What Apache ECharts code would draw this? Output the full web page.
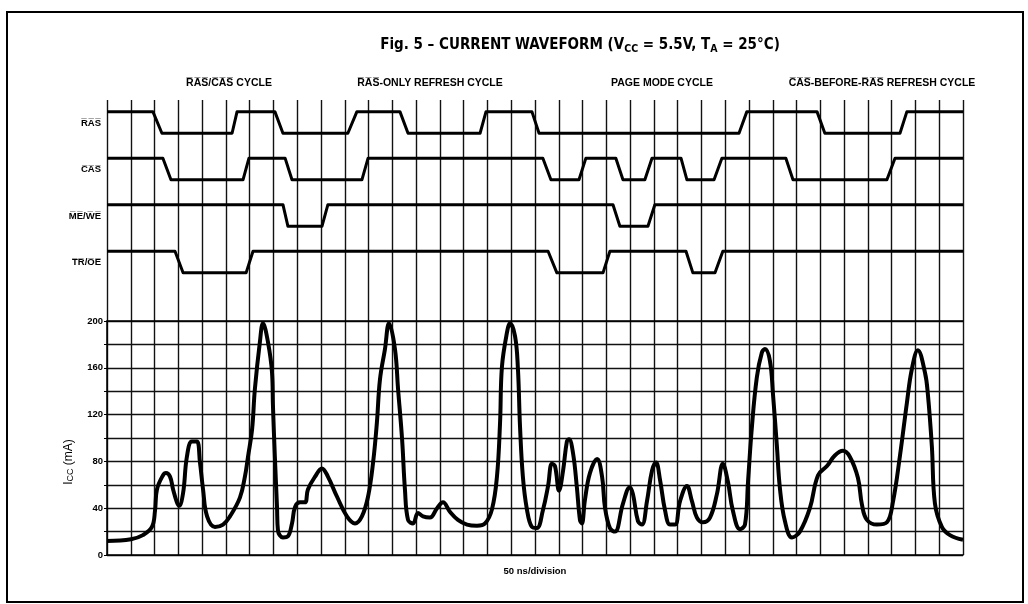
<!DOCTYPE html>
<html>
<head>
<meta charset="utf-8">
<script src="https://cdn.jsdelivr.net/npm/echarts@6/dist/echarts.min.js"></script>
<style>
html, body { margin: 0; padding: 0; background: #fff; }
#main { width: 1028px; height: 604px; }
</style>
</head>
<body>
<div id="main"></div>
<script>
// time in divisions (50 ns each), 36 divisions across
const iccTime = [0, 1.01, 1.51, 1.89, 2.02, 2.10, 2.35, 2.48, 2.65, 2.78,
    2.94, 3.03, 3.20, 3.36, 3.57, 3.78, 3.91, 4.04, 4.21, 4.54,
    4.88, 5.17, 5.59, 5.80, 5.93, 6.10, 6.22, 6.43, 6.56, 6.77,
    6.94, 6.98, 7.06, 7.15, 7.19, 7.40, 7.61, 7.78, 7.91, 8.12,
    8.33, 8.45, 8.75, 9.04, 9.29, 9.67, 10.09, 10.43, 10.72, 10.98,
    11.19, 11.35, 11.48, 11.69, 11.86, 12.11, 12.24, 12.41, 12.53, 12.66,
    12.87, 13.08, 13.29, 13.58, 13.88, 14.13, 14.42, 14.76, 15.14, 15.56,
    15.90, 16.19, 16.40, 16.53, 16.61, 16.82, 16.95, 17.16, 17.28, 17.37,
    17.49, 17.66, 17.87, 18.08, 18.33, 18.55, 18.71, 18.84, 19.01, 19.18,
    19.34, 19.43, 19.60, 19.76, 19.89, 19.97, 20.10, 20.31, 20.61, 20.82,
    20.94, 21.15, 21.36, 21.70, 21.99, 22.12, 22.33, 22.50, 22.71, 22.92,
    23.09, 23.26, 23.47, 23.68, 23.89, 24.10, 24.39, 24.60, 24.81, 25.06,
    25.36, 25.65, 25.90, 26.11, 26.32, 26.62, 26.83, 26.96, 27.12, 27.33,
    27.54, 27.67, 27.88, 28.01, 28.17, 28.30, 28.51, 28.81, 29.14, 29.56,
    29.90, 30.28, 30.61, 30.95, 31.24, 31.58, 31.75, 31.96, 32.38, 32.80,
    33.05, 33.35, 33.64, 33.85, 34.10, 34.40, 34.52, 34.69, 34.82, 35.11,
    35.45, 36];

// Icc in mA
const iccValue = [12, 13.5, 17, 24, 38, 56, 68, 70, 67, 56,
    45, 42, 53, 84, 97, 97, 79, 56, 33, 24,
    26, 33, 49, 67, 84, 107, 142, 182, 198, 182,
    156, 127, 84, 41, 21, 15, 16, 27, 41, 45,
    45, 56, 67, 74, 67, 50, 33, 27, 33, 50,
    79, 113, 150, 176, 198, 176, 142, 99, 56, 30,
    27, 36, 33, 32, 40, 45, 37, 30, 26, 25,
    27, 39, 67, 113, 161, 190, 198, 187, 160, 110,
    67, 39, 24, 23, 38, 59, 78, 76, 55, 72,
    97, 99, 87, 58, 30, 27, 47, 70, 82, 67,
    41, 23, 20, 44, 58, 52, 29, 26, 46, 72,
    79, 64, 38, 26, 26, 46, 59, 46, 32, 28,
    32, 52, 78, 63, 38, 22, 26, 63, 109, 152,
    173, 176, 166, 137, 94, 57, 29, 15, 20, 40,
    68, 76, 85, 89, 84, 66, 43, 30, 26, 28,
    45, 85, 130, 159, 175, 156, 138, 93, 44, 24,
    17, 13];

// control signals: [time in divisions, level 1 = high / 0 = low]
const rasWave = [[0, 1], [1.93, 1], [2.31, 0], [5.26, 0], [5.47, 1], [7.06, 1], [7.40, 0], [10.13, 0], [10.51, 1],
    [12.32, 1], [12.66, 0], [15.69, 0], [15.94, 1], [17.87, 1], [18.17, 0], [26.58, 0], [26.91, 1],
    [29.86, 1], [30.19, 0], [33.35, 0], [33.64, 1], [36, 1]];
const casWave = [[0, 1], [2.35, 1], [2.69, 0], [5.72, 0], [5.97, 1], [7.49, 1], [7.78, 0], [10.72, 0], [10.98, 1],
    [18.33, 1], [18.67, 0], [19.85, 0], [20.14, 1], [21.40, 1], [21.70, 0], [22.62, 0], [22.92, 1],
    [24.14, 1], [24.39, 0], [25.53, 0], [25.86, 1], [28.55, 1], [28.85, 0], [32.80, 0], [33.14, 1], [36, 1]];
const meWeWave = [[0, 1], [7.40, 1], [7.61, 0], [9.04, 0], [9.29, 1], [21.28, 1], [21.57, 0], [22.75, 0], [23.04, 1], [36, 1]];
const trOeWave = [[0, 1], [2.86, 1], [3.20, 0], [5.85, 0], [6.14, 1], [18.55, 1], [18.92, 0], [20.86, 0], [21.15, 1],
    [24.35, 1], [24.64, 0], [25.57, 0], [25.90, 1], [36, 1]];

// overline helper (active-low signal names)
function ov(s) {
    return s.split('').map(c => c + '\u0305').join('');
}

const signalNames = [ov('RAS'), ov('CAS'), ov('ME') + '/' + ov('WE'), ov('TR') + '/' + ov('OE')];
const signalWaves = [rasWave, casWave, meWeWave, trOeWave];
const laneBase = [8, 6, 4, 2];

const cycleNames = [ov('RAS') + '/' + ov('CAS') + ' CYCLE', ov('RAS') + '-ONLY REFRESH CYCLE',
    'PAGE MODE CYCLE', ov('CAS') + '-BEFORE-' + ov('RAS') + ' REFRESH CYCLE'];

const yTicks = [0, 40, 80, 120, 160, 200];

const font = "'Liberation Sans', 'DejaVu Sans', Arial, sans-serif";
const narrow = "'DejaVu Sans Condensed', 'Liberation Sans', sans-serif";
const gridLine = { color: '#111', width: 1.4 };

// label lookup for the signal lane axis
let laneLabel = {};
laneBase.forEach((b, i) => { laneLabel[b + 0.5] = signalNames[i]; });

let series = signalWaves.map((wave, i) => ({
    type: 'line',
    xAxisIndex: 0,
    yAxisIndex: 0,
    showSymbol: false,
    symbol: 'none',
    lineStyle: { color: '#000', width: 3, join: 'round' },
    data: wave.map(p => [p[0], laneBase[i] + (p[1] ? 1 : 0.07)])
}));

series.push({
    type: 'line',
    xAxisIndex: 1,
    yAxisIndex: 1,
    showSymbol: false,
    symbol: 'none',
    smooth: 0.4,
    lineStyle: { color: '#000', width: 4, join: 'round' },
    data: iccTime.map((t, i) => [t, iccValue[i]])
});

let option = {
    backgroundColor: '#fff',
    animation: false,
    grid: [
        { left: 107, right: 65, top: 100, height: 221 },
        { left: 107, right: 65, top: 321, bottom: 49 }
    ],
    xAxis: [{
        gridIndex: 0,
        type: 'value',
        min: 0, max: 36, interval: 1,
        position: 'top',
        axisLine: { show: true, lineStyle: { color: '#000', width: 1.5 } },
        axisTick: { show: false },
        axisLabel: { show: false },
        splitLine: { show: true, lineStyle: gridLine }
    }, {
        gridIndex: 1,
        type: 'value',
        min: 0, max: 36, interval: 1,
        axisLine: { show: true, onZero: false, lineStyle: { color: '#000', width: 1.6 } },
        axisTick: { show: false },
        axisLabel: { show: false },
        splitLine: { show: true, lineStyle: gridLine },
        name: '50 ns/division',
        nameLocation: 'middle',
        nameGap: 11,
        nameTextStyle: { color: '#000', fontFamily: font, fontWeight: 'bold', fontSize: 9.5 }
    }],
    yAxis: [{
        gridIndex: 0,
        type: 'value',
        min: 0, max: 9.5, interval: 0.5,
        axisLine: { show: false },
        axisTick: { show: false },
        splitLine: { show: false },
        axisLabel: {
            margin: 6,
            color: '#000',
            fontFamily: font,
            fontWeight: 'bold',
            fontSize: 9.5,
            formatter: v => laneLabel[v] || ''
        }
    }, {
        gridIndex: 1,
        type: 'value',
        min: 0, max: 200, interval: 20,
        axisLine: { show: true, lineStyle: { color: '#000', width: 1.5 } },
        axisTick: { show: true, length: 3, lineStyle: { color: '#000' } },
        splitLine: { show: true, lineStyle: gridLine },
        axisLabel: {
            margin: 4,
            color: '#000',
            fontFamily: font,
            fontWeight: 'bold',
            fontSize: 9.5,
            formatter: v => yTicks.includes(v) ? String(v) : ''
        },
        name: '{a|I}{s|CC}{a| (mA)}',
        nameLocation: 'middle',
        nameRotate: 90,
        nameGap: 32,
        nameTextStyle: {
            padding: [0, 48, 0, 0],
            rich: {
                a: { color: '#000', fontFamily: font, fontSize: 12 },
                s: { color: '#000', fontFamily: font, fontSize: 9, verticalAlign: 'bottom', padding: [4, 0, 0, 0] }
            }
        }
    }],
    graphic: [{
        type: 'rect',
        shape: { x: 7, y: 12, width: 1016, height: 590 },
        style: { fill: 'none', stroke: '#000', lineWidth: 2 },
        silent: true
    }, {
        type: 'text',
        x: 580, y: 45,
        style: {
            text: '{a|Fig. 5 \u2013 CURRENT WAVEFORM (V}{s|CC}{a| = 5.5V, T}{s|A}{a| = 25\u00b0C)}',
            align: 'center',
            verticalAlign: 'middle',
            rich: {
                a: { fontFamily: narrow, fontWeight: 'bold', fontSize: 15, fill: '#000', lineHeight: 20 },
                s: { fontFamily: narrow, fontWeight: 'bold', fontSize: 10.5, fill: '#000', verticalAlign: 'bottom', lineHeight: 20, padding: [7, 0, 0, 0] }
            }
        }
    }].concat(cycleNames.map((name, i) => ({
        type: 'text',
        x: [229, 430, 662, 882][i],
        y: 83,
        style: {
            text: name,
            align: 'center',
            verticalAlign: 'middle',
            font: 'bold 10.5px ' + font,
            fill: '#000'
        }
    }))),
    series: series
};

let chart = echarts.init(document.getElementById('main'));
chart.setOption(option);
</script>
</body>
</html>
